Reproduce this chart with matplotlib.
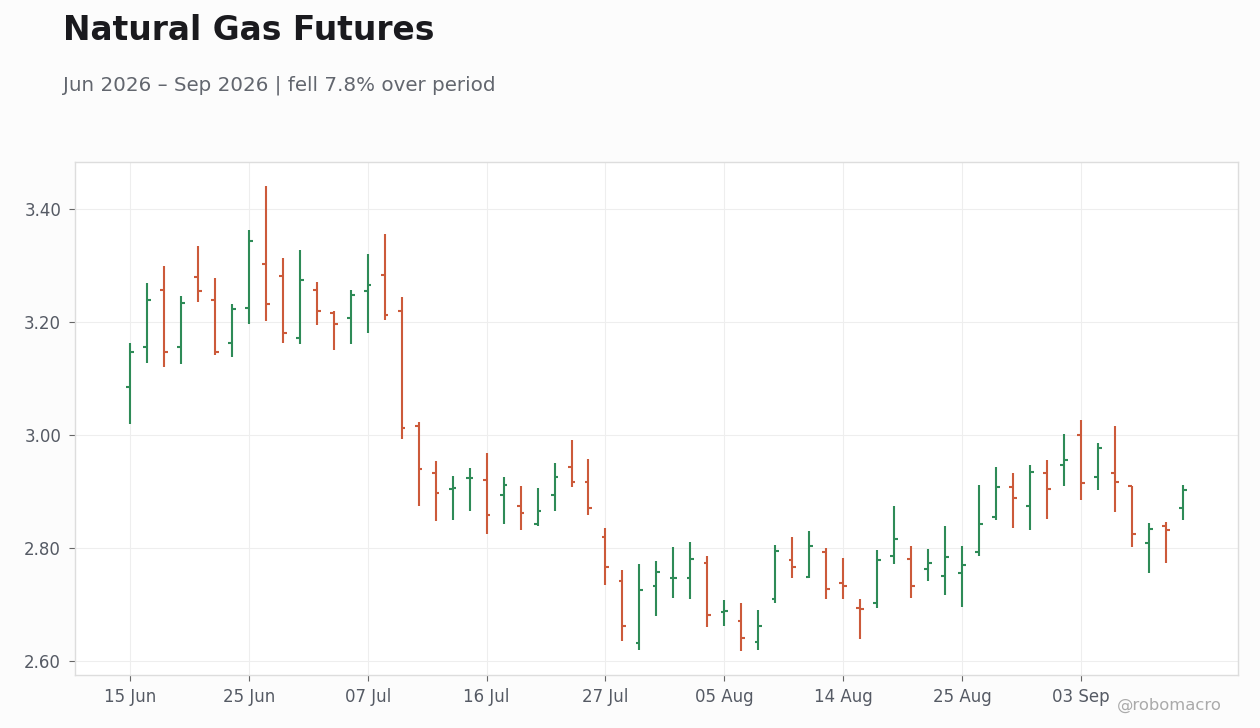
import matplotlib
matplotlib.use("Agg")
import matplotlib.pyplot as plt
import numpy as np
import pandas as pd

dates = ["2026-06-15","2026-06-16","2026-06-17","2026-06-18","2026-06-22","2026-06-23","2026-06-24",
         "2026-06-25","2026-06-26","2026-06-29","2026-06-30","2026-07-01","2026-07-02","2026-07-06",
         "2026-07-07","2026-07-08","2026-07-09","2026-07-10","2026-07-13","2026-07-14","2026-07-15",
         "2026-07-16","2026-07-17","2026-07-20","2026-07-21","2026-07-22","2026-07-23","2026-07-24",
         "2026-07-27","2026-07-28","2026-07-29","2026-07-30","2026-07-31","2026-08-03","2026-08-04",
         "2026-08-05","2026-08-06","2026-08-07","2026-08-10","2026-08-11","2026-08-12","2026-08-13",
         "2026-08-14","2026-08-17","2026-08-18","2026-08-19","2026-08-20","2026-08-21","2026-08-24",
         "2026-08-25","2026-08-26","2026-08-27","2026-08-28","2026-08-31","2026-09-01","2026-09-02",
         "2026-09-03","2026-09-04","2026-09-08","2026-09-09","2026-09-10","2026-09-11","2026-09-14"]

opens = [3.085,3.156,3.257,3.155,3.280,3.238,3.162,3.224,3.303,3.282,3.172,3.257,3.215,3.206,3.255,
         3.283,3.220,3.016,2.932,2.904,2.924,2.920,2.894,2.875,2.843,2.893,2.943,2.916,2.819,2.742,
         2.632,2.733,2.747,2.746,2.774,2.687,2.671,2.634,2.710,2.779,2.749,2.793,2.737,2.693,2.703,
         2.786,2.781,2.763,2.751,2.755,2.793,2.855,2.907,2.875,2.932,2.947,2.999,2.926,2.932,2.909,
         2.809,2.839,2.870]
highs = [3.162,3.268,3.299,3.245,3.335,3.277,3.231,3.363,3.441,3.313,3.327,3.270,3.219,3.257,3.320,
         3.356,3.244,3.022,2.954,2.927,2.941,2.968,2.925,2.909,2.906,2.950,2.991,2.958,2.835,2.760,
         2.771,2.777,2.801,2.810,2.785,2.707,2.702,2.690,2.805,2.819,2.830,2.800,2.782,2.709,2.797,
         2.874,2.804,2.798,2.839,2.804,2.912,2.943,2.933,2.947,2.956,3.002,3.027,2.986,3.015,2.909,
         2.844,2.846,2.912]
lows = [3.019,3.128,3.121,3.126,3.235,3.142,3.137,3.197,3.202,3.163,3.160,3.195,3.151,3.160,3.181,
        3.204,2.992,2.875,2.848,2.850,2.866,2.824,2.843,2.832,2.839,2.866,2.907,2.859,2.735,2.636,
        2.620,2.680,2.712,2.710,2.660,2.661,2.617,2.619,2.703,2.746,2.747,2.710,2.710,2.639,2.693,
        2.771,2.712,2.742,2.717,2.696,2.786,2.850,2.836,2.832,2.852,2.910,2.885,2.903,2.864,2.801,
        2.755,2.774,2.850]
closes = [3.147,3.239,3.146,3.234,3.254,3.147,3.222,3.344,3.232,3.181,3.274,3.220,3.197,3.247,3.266,
          3.213,3.013,2.940,2.898,2.906,2.924,2.859,2.912,2.861,2.865,2.926,2.917,2.871,2.767,2.662,
          2.726,2.758,2.747,2.781,2.682,2.689,2.641,2.662,2.795,2.767,2.804,2.728,2.733,2.691,2.778,
          2.815,2.733,2.774,2.783,2.770,2.843,2.908,2.889,2.935,2.905,2.956,2.914,2.976,2.917,2.824,
          2.834,2.832,2.903]

title = "Natural Gas Futures"
subtitle = "Jun 2026 – Sep 2026 | fell 7.8% over period"
yticks = [2.60, 2.80, 3.00, 3.20, 3.40]

UP = "#2e8b57"
DOWN = "#cc5a3a"
TXT = "#555a64"

dt = pd.to_datetime(dates)
o = np.array(opens); h = np.array(highs); l = np.array(lows); c = np.array(closes)
x = np.arange(len(dt))
cols = [UP if cc >= oo else DOWN for oo, cc in zip(o, c)]

fig = plt.figure(figsize=(12.6, 7.28), dpi=100, facecolor="#fcfcfc")
ax = fig.add_axes([75/1260, 1-675/728, (1238-75)/1260, (675-162)/728])
ax.set_facecolor("white")

lw = 1.5
tw = 0.22
ax.vlines(x, l, h, colors=cols, linewidth=lw, zorder=3)
ax.hlines(o, x - tw, x, colors=cols, linewidth=lw, zorder=3)
ax.hlines(c, x, x + tw, colors=cols, linewidth=lw, zorder=3)

ax.set_xlim(-3.24, 65.25)
ax.set_ylim(2.575, 3.483)
ax.set_xticks(x[::7])
ax.set_xticklabels([d.strftime("%d %b") for d in dt[::7]])
ax.set_yticks(yticks)
ax.set_yticklabels([f"{v:.2f}" for v in yticks])

ax.grid(True, color="#eeeeee", linewidth=0.8, zorder=0)
ax.set_axisbelow(True)
for s in ax.spines.values():
    s.set_color("#dddddd")
    s.set_linewidth(1.0)
ax.tick_params(axis="x", colors="#666666", labelsize=12, length=4, width=0.8, pad=5, labelcolor=TXT)
ax.tick_params(axis="y", colors="#666666", labelsize=12, length=4, width=0.8, pad=6, labelcolor=TXT)

fig.text(63/1260, 1-30/728, title, fontsize=23.7, fontweight="bold", color="#1a1a1e", va="center", ha="left")
fig.text(63/1260, 1-85/728, subtitle, fontsize=14.35, color="#62666e", va="center", ha="left")
fig.text(1222/1260, 1-705/728, "@robomacro", fontsize=11.8, color="#aaaaaa", va="center", ha="right")

fig.savefig("out.png", dpi=100, facecolor=fig.get_facecolor())
